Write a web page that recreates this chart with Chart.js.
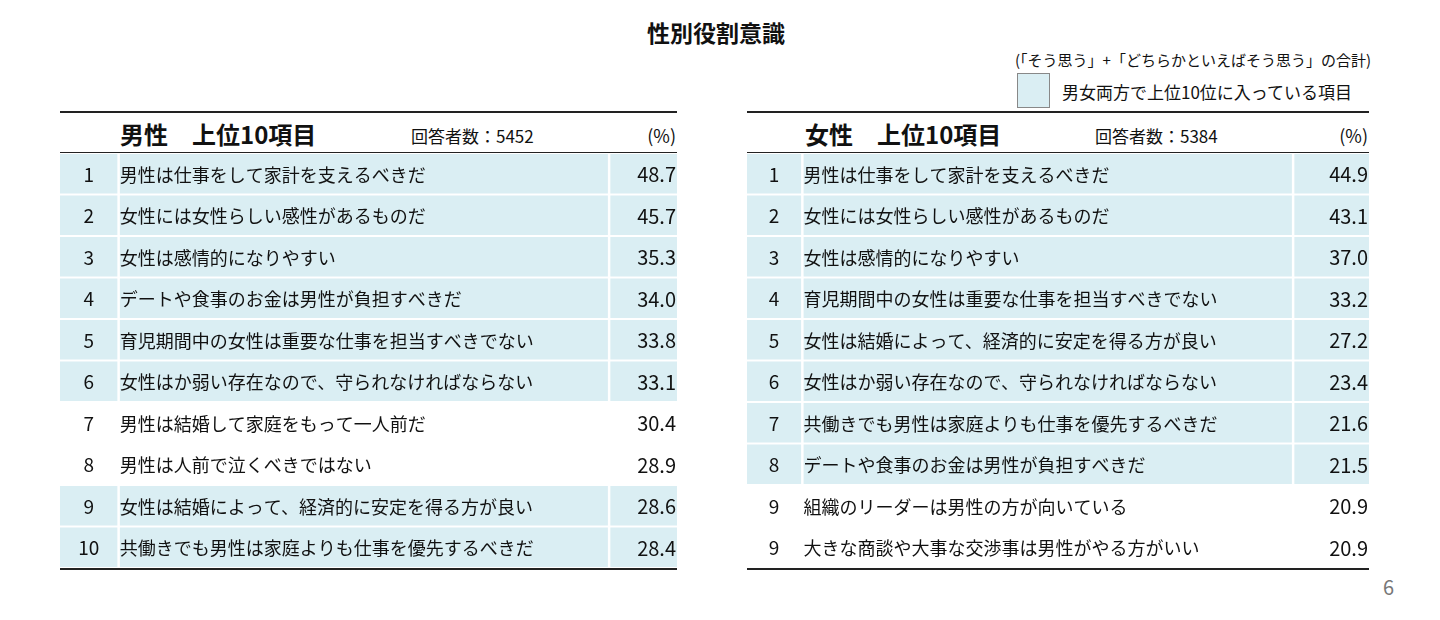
<!DOCTYPE html>
<html><head><meta charset="utf-8">
<script src="https://cdn.jsdelivr.net/npm/chart.js@4"></script>
<style>
body{margin:0;width:1440px;height:620px;background:#fff;font-family:"Noto Sans CJK JP",sans-serif;color:#111;position:relative;overflow:hidden}
.a{position:absolute;white-space:nowrap}
canvas{position:absolute}
.hl{position:absolute;height:2px;background:#222}
</style></head><body>
<div class="a" style="left:0;width:1432px;text-align:center;top:15px;font-size:23px;font-weight:bold">性別役割意識</div>
<div class="a" style="left:1015px;top:49px;font-size:15px">(「そう思う」+「どちらかといえばそう思う」の合計)</div>
<div class="a" style="left:1017px;top:73px;width:31px;height:33px;background:#DAEEF3;border:1px solid #888"></div>
<div class="a" style="left:1062px;top:79px;font-size:17px">男女両方で上位10位に入っている項目</div>
<div class="a" style="left:1383px;top:572px;font-size:20px;color:#777">6</div>

<div class="hl" style="left:60px;width:617px;top:111px"></div>
<div class="a" style="left:120px;top:116px;font-size:24px;font-weight:bold">男性　上位10項目</div>
<div class="a" style="left:411px;top:123px;font-size:17px">回答者数：5452</div>
<div class="a" style="left:600px;width:76px;text-align:right;top:122px;font-size:18px">(%)</div>
<div class="hl" style="left:60px;width:617px;top:152px;height:1px"></div>

<div class="hl" style="left:747px;width:622px;top:111px"></div>
<div class="a" style="left:805px;top:116px;font-size:24px;font-weight:bold">女性　上位10項目</div>
<div class="a" style="left:1095px;top:123px;font-size:17px">回答者数：5384</div>
<div class="a" style="left:1290px;width:78px;text-align:right;top:122px;font-size:18px">(%)</div>
<div class="hl" style="left:747px;width:622px;top:152px;height:1px"></div>

<canvas id="m" style="left:60px;top:153px" width="617" height="417"></canvas>
<canvas id="f" style="left:747px;top:153px" width="622" height="417"></canvas>
<script>
const maleRanks=["1","2","3","4","5","6","7","8","9","10"];
const maleItems=["男性は仕事をして家計を支えるべきだ","女性には女性らしい感性があるものだ","女性は感情的になりやすい","デートや食事のお金は男性が負担すべきだ","育児期間中の女性は重要な仕事を担当すべきでない","女性はか弱い存在なので、守られなければならない","男性は結婚して家庭をもって一人前だ","男性は人前で泣くべきではない","女性は結婚によって、経済的に安定を得る方が良い","共働きでも男性は家庭よりも仕事を優先するべきだ"];
const maleValues=[48.7,45.7,35.3,34.0,33.8,33.1,30.4,28.9,28.6,28.4];
const maleShared=[1,1,1,1,1,1,0,0,1,1];
const femaleRanks=["1","2","3","4","5","6","7","8","9","9"];
const femaleItems=["男性は仕事をして家計を支えるべきだ","女性には女性らしい感性があるものだ","女性は感情的になりやすい","育児期間中の女性は重要な仕事を担当すべきでない","女性は結婚によって、経済的に安定を得る方が良い","女性はか弱い存在なので、守られなければならない","共働きでも男性は家庭よりも仕事を優先するべきだ","デートや食事のお金は男性が負担すべきだ","組織のリーダーは男性の方が向いている","大きな商談や大事な交渉事は男性がやる方がいい"];
const femaleValues=[44.9,43.1,37.0,33.2,27.2,23.4,21.6,21.5,20.9,20.9];
const femaleShared=[1,1,1,1,1,1,1,1,0,0];

function make(id,ranks,items,vals,shared,c1,c2){
  const labels=ranks.map((r,i)=>i);
  const seg=(a,b)=>shared.map(s=>s?[a,b]:null);
  const textPlugin={id:'t',afterDatasetsDraw(ch){
    const {ctx,scales:{x,y},chartArea}=ch;
    ctx.save();ctx.fillStyle='#111';ctx.textBaseline='middle';
    ranks.forEach((r,i)=>{
      const py=y.getPixelForValue(i)+1;
      ctx.font='19px "Noto Sans CJK JP"';
      ctx.textAlign='center';ctx.fillText(r,x.getPixelForValue(c1/2),py);
      ctx.font='18px "Noto Sans CJK JP"';
      ctx.textAlign='left';ctx.fillText(items[i],x.getPixelForValue(c1+0.4),py);
      ctx.font='20px "Noto Sans CJK JP"';
      ctx.textAlign='right';ctx.fillText(vals[i].toFixed(1),x.getPixelForValue(100)-1,py);
    });
    ctx.fillStyle='#222';ctx.fillRect(chartArea.left,chartArea.bottom,chartArea.right-chartArea.left,2);
    ctx.restore();}};
  new Chart(document.getElementById(id),{type:'bar',
    data:{labels,datasets:[
      {data:seg(0,c1),backgroundColor:'#DAEEF3',grouped:false},
      {data:seg(c1+0.4,c2),backgroundColor:'#DAEEF3',grouped:false},
      {data:seg(c2+0.4,100),backgroundColor:'#DAEEF3',grouped:false}]},
    options:{indexAxis:'y',responsive:false,animation:false,
      barPercentage:0.95,categoryPercentage:1,
      layout:{padding:{bottom:2}},
      plugins:{legend:{display:false},tooltip:{enabled:false}},
      scales:{x:{display:false,min:0,max:100},y:{display:false}}},
    plugins:[textPlugin]});
}
make('m',maleRanks,maleItems,maleValues,maleShared,9.3,88.8);
make('f',femaleRanks,femaleItems,femaleValues,femaleShared,8.7,87.6);
</script></body></html>
